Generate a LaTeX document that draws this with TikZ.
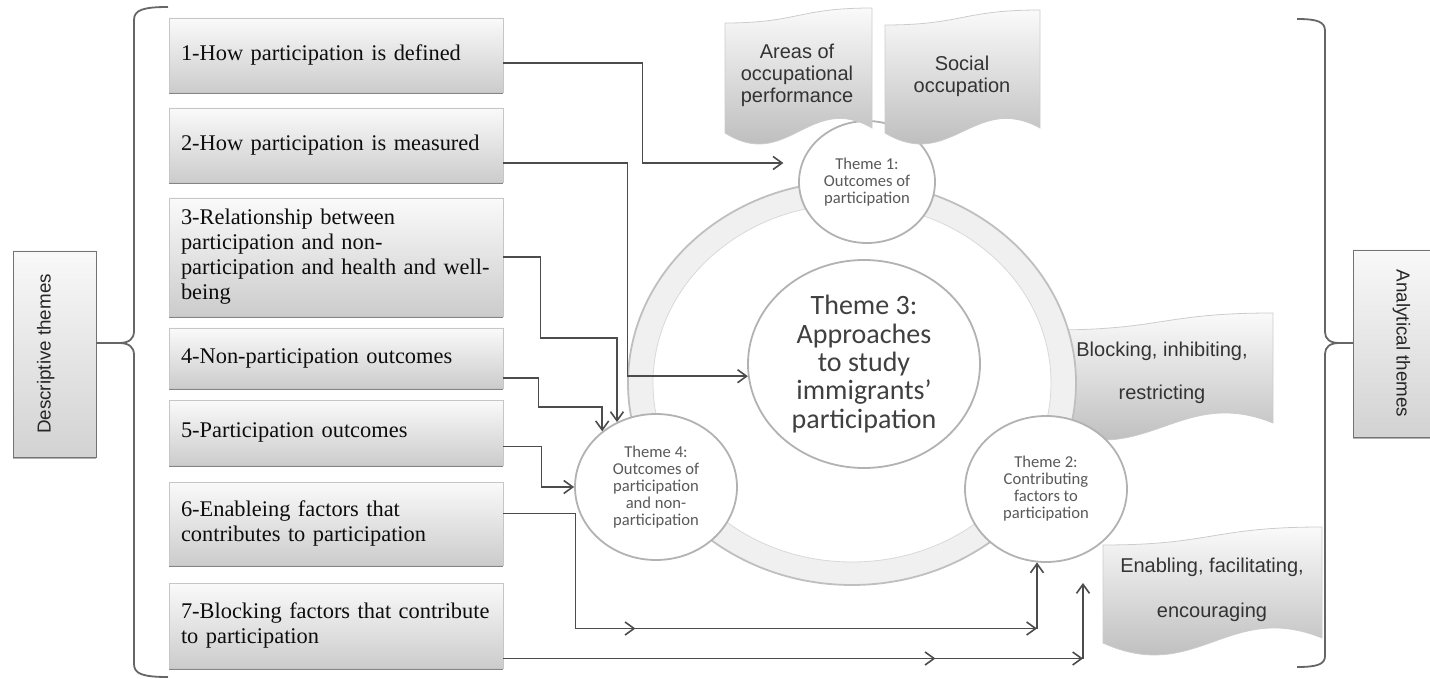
\documentclass[tikz,border=0pt]{standalone}
\usepackage{fontspec}
\setmainfont{Liberation Serif}
\newfontfamily\arialfont{Liberation Sans}
\newfontfamily\calfont{Carlito}
\usetikzlibrary{arrows.meta,calc,shapes.geometric,shadows}

\begin{document}
\begin{tikzpicture}[x=0.5pt, y=-0.5pt, >={Straight Barb[length=4.5pt,width=6.5pt]},
	conline/.style={black!70, line width=0.8pt},
	con/.style={conline, ->},
	dbox/.style={rectangle, draw=gray!45, top color=gray!4, bottom color=gray!40, text width=155pt, inner xsep=6pt, align=left, font=\fontsize{11.2}{12.5}\selectfont, text=black!95, drop shadow={shadow xshift=0pt, shadow yshift=-1.2pt, opacity=.8, fill=gray!80!black}},
	sbox/.style={rectangle, draw=black!55, top color=gray!5, bottom color=gray!35, font=\arialfont\fontsize{9.4}{11}\selectfont, text=black!85, text height=7pt, text depth=11pt, drop shadow={shadow xshift=0pt, shadow yshift=-1pt, opacity=.6}},
	theme/.style={ellipse, draw=gray!60, fill=white, line width=0.9pt, inner sep=0pt, align=center, text=black!65, font=\calfont\fontsize{8.3}{8.5}\selectfont},
	wave/.style={draw=gray!40, top color=gray!4, bottom color=gray!60},
	wtext/.style={align=center, text=black!80, font=\arialfont\fontsize{10}{11}\selectfont},
	brc/.style={gray!80!black, line width=0.9pt}]
	\useasboundingbox (0,0) rectangle (1430,679);

	\node[sbox, rotate=90, minimum width=103pt, minimum height=41.5pt] (desc) at (54.5,354) {Descriptive themes};
	\node[sbox, rotate=-90, minimum width=93.5pt, minimum height=39.5pt] (anl) at (1392.5,343.5) {Analytical themes};
	\draw[brc] (168,7) .. controls (143,7) and (134,10) .. (134,20) -- (134,331) .. controls (134,339) and (129,343) .. (119,343) coordinate (ltip) .. controls (129,343) and (134,347) .. (134,355) -- (134,664) .. controls (134,674) and (143,677) .. (168,677);
	\draw[brc] (ltip) -- (ltip -| desc.south);
	\draw[brc] (1297,19) .. controls (1318,19) and (1325,22) .. (1325,31) -- (1325,332) .. controls (1325,339) and (1330,343) .. (1339,343) coordinate (rtip) .. controls (1330,343) and (1325,347) .. (1325,354) -- (1325,656) .. controls (1325,664) and (1318,667) .. (1297,667);
	\draw[brc] (rtip) -- (rtip -| anl.south);

	\node[dbox, minimum height=37pt] (b1) at (336,55) {1-How participation is defined};
	\node[dbox, minimum height=37pt] (b2) at (336,145) {2-How participation is measured};
	\node[dbox, minimum height=59pt] (b3) at (336,257) {3-Relationship between\\participation and non-\\participation and health and well-\\being};
	\node[dbox, minimum height=30pt] (b4) at (336,358) {4-Non-participation outcomes};
	\node[dbox, minimum height=32.5pt] (b5) at (336,432.5) {5-Participation outcomes};
	\node[dbox, minimum height=41.5pt] (b6) at (336,523.5) {6-Enableing factors that\\contributes to participation};
	\node[dbox, minimum height=42.5pt] (b7) at (336,625.5) {7-Blocking factors that contribute\\to participation};

	\draw[wave] (1052,330) .. controls (1162,330) and (1162,313) .. (1273,313) -- (1273,423) .. controls (1180,385) and (1145,470) .. (1052,428) -- cycle;
	\draw[wave] (1103,545) .. controls (1212,545) and (1212,527) .. (1322,527) -- (1322,638) .. controls (1229,600) and (1196,685) .. (1103,643) -- cycle;
	\node[wtext, font=\arialfont\fontsize{10}{21.5}\selectfont] (blk) at (1162,373) {Blocking, inhibiting,\\restricting};
	\node[wtext, font=\arialfont\fontsize{10}{22.5}\selectfont] (enb) at (1212,590) {Enabling, facilitating,\\encouraging};

	\fill[gray!12, even odd rule] (852,383) ellipse [x radius=224, y radius=202] (852,383) ellipse [x radius=199, y radius=179];
	\draw[gray!50, line width=0.9pt] (852,383) ellipse [x radius=224, y radius=202];
	\draw[gray!30] (852,383) ellipse [x radius=199, y radius=179];

	\node[theme, minimum width=116pt, minimum height=104pt, text=black!75, font=\calfont\fontsize{14}{14.2}\selectfont] (t3) at (864,364) {Theme 3:\\Approaches\\to study\\immigrants’\\participation};
	\node[theme, minimum width=68pt, minimum height=61pt] (t1) at (867,182) {Theme 1:\\Outcomes of\\participation};
	\node[theme, minimum width=81pt, minimum height=73pt] (t2) at (1046,489) {Theme 2:\\Contributing\\factors to\\participation};
	\node[theme, minimum width=81pt, minimum height=73pt] (t4) at (656,487) {Theme 4:\\Outcomes of\\participation\\and non-\\participation};

	\draw[wave] (725,23) .. controls (798,23) and (798,8) .. (872,8) -- (872,128) .. controls (810,92) and (787,172) .. (725,133) -- cycle;
	\draw[wave] (885,25) .. controls (962,25) and (962,10) .. (1040,10) -- (1040,128) .. controls (975,92) and (950,172) .. (885,133) -- cycle;
	\node[wtext] (area) at (797,75) {Areas of\\occupational\\performance};
	\node[wtext] (soc) at (962,76) {Social\\occupation};

	\draw[con] ($(b1.east)+(0,8)$) -- ++(139,0) -- ++(0,100) -- ++(141,0);
	\draw[con] ($(b2.east)+(0,18)$) -- ++(124,0) |- (t3.186);
	\draw[con] (b3.east) -- ++(37,0) -- ++(0,81) -| (t4.121);
	\draw[con] ($(b4.east)+(0,20)$) -- ++(35,0) -- ++(0,29) -| (t4.134);
	\draw[con] ($(b5.east)+(0,14)$) -- ++(38,0) |- (t4.west);
	\draw[conline] ($(b6.east)+(0,-10)$) -- ++(72,0) -- ++(0,115) coordinate (k6);
	\draw[con] (k6) -- ++(60,0);
	\draw[con] (k6) -- (k6 -| t2.263);
	\draw[con] (k6 -| t2.263) -- (t2.263);
	\coordinate (e7) at (1083,583);
	\draw[con] ($(b7.east)+(0,33)$) coordinate (k7) -- ++(432,0);
	\draw[con] (k7) -- (k7 -| e7);
	\draw[con] (k7 -| e7) -- (e7);
\end{tikzpicture}
\end{document}
